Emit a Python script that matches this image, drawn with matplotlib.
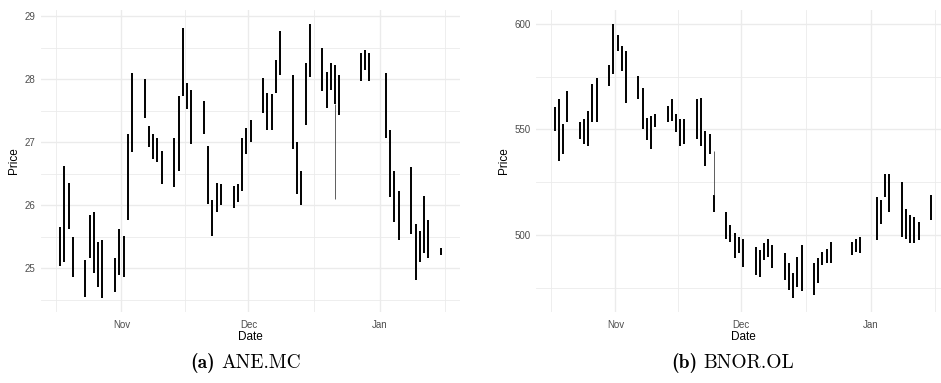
import numpy as np
import matplotlib
matplotlib.use("Agg")
import matplotlib.pyplot as plt
import matplotlib.dates as mdates

plt.rcParams['font.family'] = ['Liberation Sans', 'DejaVu Sans']

# Daily trading ranges (low / high) for both tickers
ane_dates = ['2023-10-17', '2023-10-18', '2023-10-19', '2023-10-20',
             '2023-10-23', '2023-10-24', '2023-10-25', '2023-10-26', '2023-10-27',
             '2023-10-30', '2023-10-31', '2023-11-01', '2023-11-02', '2023-11-03',
             '2023-11-06', '2023-11-07', '2023-11-08', '2023-11-09', '2023-11-10',
             '2023-11-13', '2023-11-14', '2023-11-15', '2023-11-16', '2023-11-17',
             '2023-11-20', '2023-11-21', '2023-11-22', '2023-11-23', '2023-11-24',
             '2023-11-27', '2023-11-28', '2023-11-29', '2023-11-30', '2023-12-01',
             '2023-12-04', '2023-12-05', '2023-12-06', '2023-12-07', '2023-12-08',
             '2023-12-11', '2023-12-12', '2023-12-13', '2023-12-14', '2023-12-15',
             '2023-12-18', '2023-12-19', '2023-12-20', '2023-12-21', '2023-12-22',
             '2023-12-27', '2023-12-28', '2023-12-29',
             '2024-01-02', '2024-01-03', '2024-01-04', '2024-01-05',
             '2024-01-08', '2024-01-09', '2024-01-10', '2024-01-11', '2024-01-12',
             '2024-01-15']
ane_low = [25.03, 25.10, 25.63, 24.87,
           24.55, 25.16, 24.92, 24.71, 24.53,
           24.63, 24.90, 24.87, 25.76, 26.84,
           27.39, 26.92, 26.73, 26.68, 26.34,
           26.29, 26.55, 27.73, 27.52, 26.97,
           27.13, 26.02, 25.52, 25.89, 26.00,
           25.95, 26.05, 26.23, 26.81, 27.00,
           27.47, 27.20, 27.20, 27.78, 28.07,
           26.89, 26.18, 26.00, 27.28, 28.04,
           27.81, 27.55, 27.83, 27.60, 27.44,
           27.97, 28.15, 27.97,
           27.07, 26.13, 25.73, 25.45,
           25.55, 24.82, 25.10, 25.24, 25.16,
           25.21]
ane_high = [25.66, 26.63, 26.36, 25.50,
            25.13, 25.84, 25.89, 25.42, 25.45,
            25.16, 25.63, 25.52, 27.13, 28.10,
            28.00, 27.26, 27.13, 27.07, 26.86,
            27.07, 27.73, 28.81, 27.94, 27.83,
            27.65, 26.94, 26.08, 26.36, 26.34,
            26.31, 26.34, 27.07, 27.23, 27.36,
            28.02, 27.78, 27.76, 28.31, 28.76,
            28.07, 27.00, 26.55, 28.25, 28.88,
            28.49, 28.12, 28.25, 28.23, 28.07,
            28.41, 28.47, 28.41,
            28.10, 27.20, 26.55, 26.23,
            26.60, 25.71, 25.60, 26.14, 25.76,
            25.32]
# single-tick outliers drawn as thin lines
ane_spike_dates = ['2023-12-21']
ane_spike_low = [26.10]
ane_spike_high = [27.60]

bnor_dates = ane_dates
bnor_low = [549.4, 535.3, 538.4, 553.3,
            545.5, 543.1, 542.3, 553.3, 553.3,
            570.5, 576.0, 587.0, 577.6, 562.7,
            564.3, 550.2, 545.0, 540.8, 551.0,
            553.3, 554.1, 548.6, 542.3, 543.1,
            545.5, 542.3, 532.9, 538.4, 511.0,
            498.4, 496.9, 489.0, 491.4, 485.1,
            481.2, 480.4, 488.3, 489.8, 484.3,
            478.9, 474.2, 470.3, 475.7, 473.4,
            471.8, 477.3, 485.9, 486.7, 486.7,
            490.6, 492.2, 491.4,
            497.7, 505.5, 518.0, 511.0,
            499.2, 498.4, 496.1, 496.1, 497.7,
            507.1]
bnor_high = [560.4, 564.3, 552.5, 568.2,
             553.3, 554.9, 558.8, 571.3, 574.5,
             580.7, 600.0, 594.8, 589.3, 587.0,
             575.2, 569.8, 555.6, 556.4, 557.2,
             561.1, 564.3, 557.2, 554.9, 554.9,
             564.3, 565.0, 549.4, 547.8, 519.0,
             511.0, 504.7, 500.8, 499.2, 498.4,
             494.5, 493.0, 496.1, 498.4, 495.3,
             491.4, 486.7, 482.0, 489.8, 495.3,
             486.7, 489.0, 492.2, 493.7, 496.9,
             496.9, 498.4, 499.2,
             518.0, 516.5, 529.0, 529.0,
             525.1, 512.6, 509.4, 508.6, 506.3,
             518.8]
bnor_spike_dates = ['2023-11-24']
bnor_spike_low = [519.0]
bnor_spike_high = [540.0]

ane_yticks = [25, 26, 27, 28, 29]
bnor_yticks = [500, 550, 600]
month_ticks = ['2023-11-01', '2023-12-01', '2024-01-01']
month_labels = ['Nov', 'Dec', 'Jan']
mid_month_ticks = ['2023-10-16 12:00', '2023-11-16', '2023-12-16 12:00', '2024-01-16 12:00']


def to_num(days, shift=0.5):
    return mdates.date2num(np.array(days, dtype='datetime64[m]')) + shift


def draw_panel(ax, dates, low, high, sp_dates, sp_low, sp_high, yticks, ystep):
    x = to_num(dates)
    ax.vlines(x, low, high, color='black', linewidth=1.4, capstyle='butt')
    ax.vlines(to_num(sp_dates), sp_low, sp_high, color='#444444', linewidth=0.6)
    ax.margins(x=0.05, y=0.05)

    ax.set_xticks(to_num(month_ticks, 0))
    ax.set_xticklabels(month_labels)
    ax.set_xticks(to_num(mid_month_ticks, 0), minor=True)
    ax.set_yticks(yticks)
    ax.set_yticks([v - ystep / 2 for v in yticks] + [yticks[-1] + ystep / 2], minor=True)
    lo, hi = min(low), max(high)
    pad = (hi - lo) * 0.05
    ax.set_ylim(lo - pad, hi + pad)

    ax.grid(which='major', color='#ebebeb', linewidth=1.0)
    ax.grid(which='minor', color='#ebebeb', linewidth=0.6)
    ax.set_axisbelow(True)
    for s in ax.spines.values():
        s.set_visible(False)
    ax.tick_params(which='both', length=0, labelsize=7, labelcolor='#4d4d4d')
    ax.tick_params(axis='x', pad=6)
    ax.tick_params(axis='y', pad=4)
    ax.set_xlabel('Date', fontsize=8.5, labelpad=1)
    ax.set_ylabel('Price', fontsize=8.5, labelpad=3)


fig = plt.figure(figsize=(9.41, 3.83), dpi=100)
W, H = 941, 383
ax1 = fig.add_axes([41 / W, (H - 311.7) / H, (460 - 41) / W, (311.7 - 10) / H])
ax2 = fig.add_axes([536 / W, (H - 311.7) / H, (950 - 536) / W, (311.7 - 10) / H])

draw_panel(ax1, ane_dates, ane_low, ane_high, ane_spike_dates, ane_spike_low,
           ane_spike_high, ane_yticks, 1)
draw_panel(ax2, bnor_dates, bnor_low, bnor_high, bnor_spike_dates, bnor_spike_low,
           bnor_spike_high, bnor_yticks, 50)

# subfigure captions: bold tag + roman ticker name
cap_y = (H - 363) / H
for tag, name, split in [('(a)', 'ANE.MC', 217), ('(b)', 'BNOR.OL', 699)]:
    fig.text((split - 2) / W, cap_y, tag, family='cmb10', fontsize=14,
             ha='right', va='center')
    fig.text((split + 4) / W, cap_y, name, family='cmr10', fontsize=14,
             ha='left', va='center')

fig.savefig('out.png', dpi=100)
